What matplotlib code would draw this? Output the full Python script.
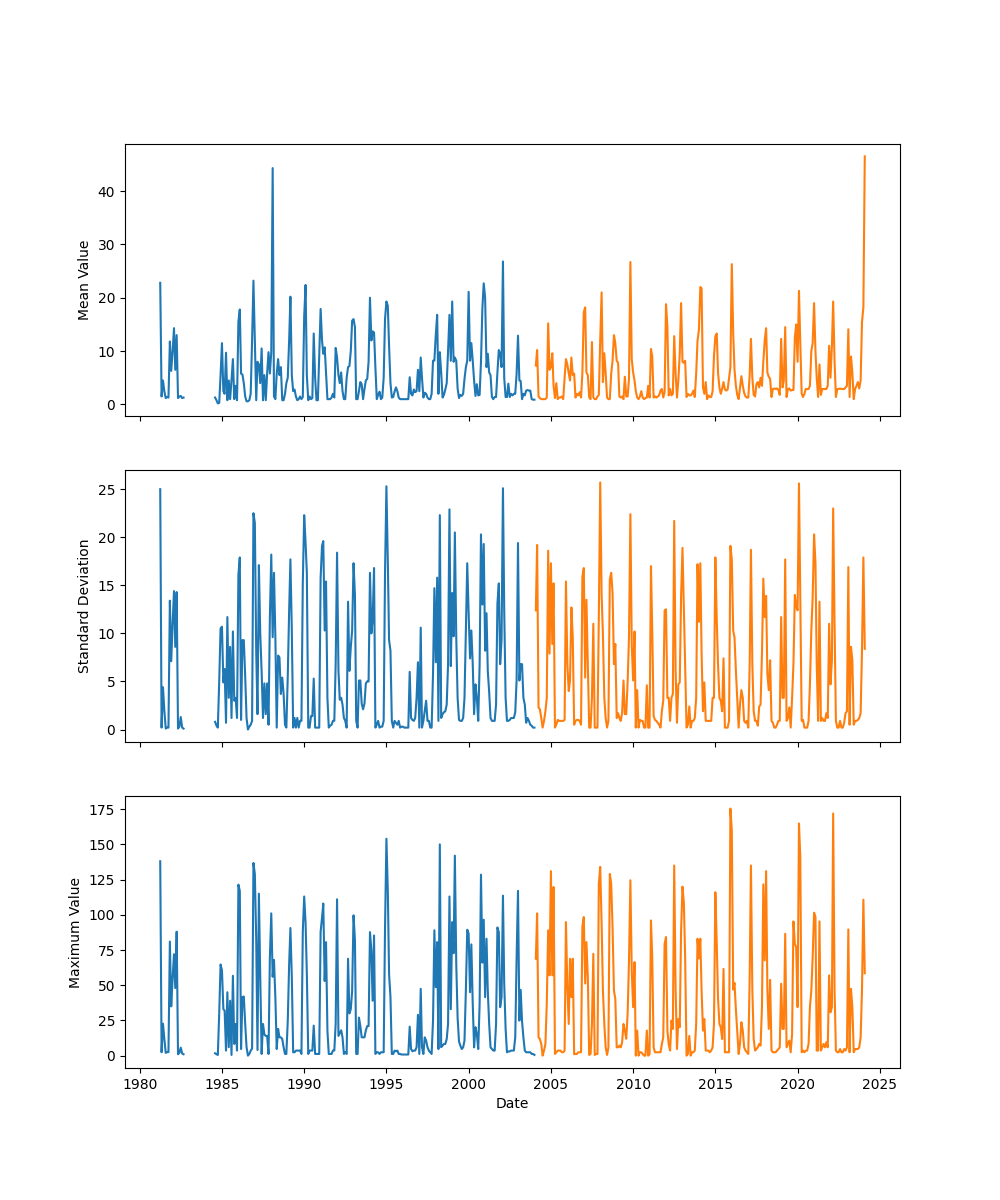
from matplotlib import pyplot as plt
import numpy as np
import pandas as pd

# monthly series, first blue block Apr 1981 - Sep 1982
mean_blue_a = [22.8, 1.5, 4.5, 2.5, 1.2, 1.4, 1.3, 11.8, 6.3, 10.0, 14.3, 6.5, 13.0, 1.2, 1.5, 1.6, 1.2, 1.3]
std_blue_a = [25.0, 0.2, 4.4, 2.0, 0.1, 0.2, 0.2, 13.4, 7.1, 11.0, 14.4, 8.6, 14.3, 0.1, 0.3, 1.3, 0.2, 0.1]
max_blue_a = [138, 2.4, 22.7, 12.0, 2.0, 2.5, 2.5, 81, 35, 55, 72, 48, 88, 1.0, 2.0, 5.7, 1.5, 1.0]

# second blue block Aug 1984 - Jan 2004
mean_blue_b = [
    1.3, 0.8, 0.2, 0.3, 5.5,  # 1984
    11.5, 2.5, 2.0, 9.7, 0.8, 4.5, 1.0, 4.6, 8.5, 1.0, 3.5, 0.8,
    15.5, 17.8, 5.8, 5.6, 4.0, 1.5, 0.6, 0.6, 0.8, 2.0, 12.0, 23.2,
    12.0, 0.8, 8.0, 7.5, 4.0, 10.5, 0.8, 5.5, 0.8, 5.8, 9.8, 5.8,
    9.8, 44.3, 1.5, 1.0, 5.8, 8.5, 5.5, 7.0, 0.8, 0.8, 2.0, 4.0,
    5.0, 12.0, 20.2, 5.5, 2.5, 2.8, 1.5, 0.8, 1.0, 1.5, 1.0, 1.4,
    16.5, 22.4, 5.5, 0.8, 1.5, 1.0, 1.2, 13.3, 5.0, 0.8, 0.8, 9.0,  # 1990
    17.9, 12.0, 9.5, 10.7, 6.0, 1.0, 1.0, 1.0, 1.3, 2.0, 1.3, 10.6,
    8.8, 5.5, 4.0, 6.0, 2.5, 1.0, 1.0, 5.0, 7.0, 7.2, 10.0, 15.7,
    16.0, 14.5, 1.0, 1.0, 2.5, 4.2, 3.8, 1.0, 2.9, 4.5, 4.8, 8.0,
    20.0, 12.0, 13.7, 13.5, 7.0, 1.0, 1.8, 2.4, 1.0, 1.3, 5.0, 16.0,
    19.3, 18.5, 11.0, 4.0, 1.3, 1.4, 2.4, 3.2, 2.5, 1.3, 1.0, 1.0,  # 1995
    1.0, 1.0, 1.0, 1.0, 1.0, 5.1, 2.0, 1.7, 2.8, 2.3, 2.5, 6.5,
    2.5, 8.8, 5.0, 1.3, 2.2, 2.0, 1.3, 1.0, 1.0, 2.0, 8.2, 8.2,
    13.0, 16.8, 2.0, 9.8, 6.0, 1.3, 1.8, 2.8, 4.0, 10.0, 16.8, 8.2,
    19.3, 8.0, 8.8, 8.2, 3.0, 1.2, 1.8, 1.6, 2.0, 4.8, 7.0, 8.2,
    21.1, 8.2, 11.5, 8.2, 4.5, 1.6, 3.8, 1.7, 1.8, 8.0, 18.0, 22.7,  # 2000
    20.0, 7.0, 9.5, 6.0, 5.5, 1.4, 1.0, 1.4, 1.4, 6.0, 10.2, 9.5,
    7.0, 26.8, 5.0, 1.4, 1.4, 3.9, 1.4, 2.0, 1.7, 2.0, 2.0, 5.7,
    12.9, 4.5, 4.4, 1.0, 2.0, 1.7, 2.6, 2.7, 2.6, 2.6, 1.0, 0.9,
    0.9,
]
std_blue_b = [
    0.8, 0.4, 0.2, 5.0, 10.5,  # 1984
    10.7, 4.9, 6.3, 0.7, 11.7, 3.3, 8.6, 1.2, 10.2, 3.0, 3.3, 1.2,
    16.1, 17.9, 1.0, 9.3, 9.3, 5.5, 1.2, 0.0, 0.3, 0.5, 0.9, 22.5,
    21.5, 8.0, 1.6, 17.1, 10.0, 6.0, 1.2, 4.8, 1.6, 4.8, 0.5, 11.7,
    18.2, 9.6, 16.3, 9.6, 0.2, 7.7, 7.5, 3.7, 5.4, 3.7, 0.5, 0.2,
    5.5, 12.4, 17.7, 10.3, 0.2, 1.2, 0.2, 1.2, 0.2, 0.9, 0.9, 15.2,
    22.3, 19.4, 16.3, 0.2, 0.2, 1.4, 1.4, 5.3, 0.2, 0.2, 0.2, 0.2,  # 1990
    15.8, 19.1, 19.6, 10.3, 15.4, 3.3, 0.2, 0.4, 0.5, 0.9, 0.9, 6.8,
    18.4, 6.1, 3.1, 3.3, 2.6, 1.2, 0.9, 0.2, 13.3, 6.1, 8.6, 10.3,
    17.3, 14.0, 0.9, 0.2, 5.1, 5.1, 2.7, 2.1, 2.7, 4.8, 5.0, 5.0,
    16.3, 10.0, 11.4, 16.8, 0.2, 0.5, 0.9, 0.2, 0.3, 0.3, 0.9, 16.3,
    25.3, 17.5, 9.3, 8.2, 0.9, 0.2, 0.9, 0.7, 0.5, 0.9, 0.2, 0.3,  # 1995
    0.3, 0.2, 0.2, 0.2, 0.2, 6.0, 1.2, 1.0, 0.9, 1.2, 3.3, 7.0,
    0.2, 10.6, 0.2, 0.9, 1.9, 3.0, 0.9, 0.9, 0.2, 0.2, 5.8, 14.7,
    7.0, 15.8, 0.9, 22.3, 1.2, 1.6, 1.8, 1.9, 2.6, 6.8, 22.9, 6.6,
    14.2, 9.7, 20.5, 9.6, 3.3, 1.0, 0.9, 0.9, 1.2, 3.3, 10.3, 17.3,
    12.1, 7.4, 10.3, 6.8, 1.6, 4.7, 3.3, 0.9, 6.8, 20.3, 13.0, 19.3,  # 2000
    8.2, 12.1, 6.1, 3.9, 1.2, 0.9, 0.9, 0.9, 2.6, 13.1, 15.2, 6.8,
    9.3, 25.1, 12.4, 3.3, 0.9, 0.9, 1.0, 1.2, 1.2, 1.2, 1.8, 5.1,
    19.4, 5.1, 6.8, 6.8, 3.3, 2.6, 0.7, 1.2, 0.9, 0.5, 0.4, 0.2,
    0.2,
]
max_blue_b = [
    1.7, 1.0, 0.5, 30.0, 64.7,  # 1984
    60.5, 33, 32, 3.6, 45, 6.0, 39, 0.5, 56.7, 8.3, 22.5, 3.6,
    121.4, 117, 4.7, 41.5, 42, 22.5, 6.0, 0.0, 1.2, 3.6, 5.0, 136.8,
    129, 82, 4.0, 115, 56, 1.2, 22.5, 15, 14, 14, 1.2, 70,
    101, 56, 68, 41, 4.7, 19, 13, 13, 11.8, 6.0, 1.2, 1.2,
    24.4, 65, 90.6, 56, 2.4, 2.4, 3.6, 3.6, 3.6, 3.6, 1.2, 88,
    113, 94, 58, 1.2, 3.6, 3.6, 3.6, 21.3, 1.2, 1.2, 1.2, 1.2,  # 1990
    88, 98, 108, 53, 80.6, 17.8, 1.2, 1.2, 1.2, 3.6, 3.6, 22.5,
    111, 14, 16, 18, 13, 1.2, 2.4, 1.2, 68.8, 30, 33, 46,
    99.6, 82, 1.2, 1.2, 27, 21, 13, 13, 13, 18, 21, 21,
    87.7, 74.7, 39.0, 85.3, 1.2, 2.4, 2.4, 1.2, 2.4, 2.4, 2.4, 90.0,
    154, 117, 58, 41.5, 1.2, 1.2, 3.6, 3.1, 3.6, 1.2, 1.2, 0.8,  # 1995
    0.8, 0.8, 0.8, 0.8, 0.8, 20.6, 4.7, 3.1, 3.6, 3.6, 6.0, 29,
    1.2, 47.4, 6.0, 1.2, 13.0, 10.7, 6.0, 3.6, 2.4, 1.2, 25, 89,
    48.6, 80.6, 4.7, 150, 6.0, 7.1, 8.3, 8.3, 11.8, 22.5, 113, 33,
    94.8, 72.7, 142, 65.2, 27, 10, 7.1, 4.7, 5.9, 10.7, 46.9, 89.4,
    86.6, 45, 79, 36.7, 5.9, 20.2, 15.4, 4.7, 36.7, 128.5, 66, 96.5,  # 2000
    41.5, 83, 46.2, 22.5, 5.9, 4.7, 3.6, 3.6, 22.5, 91, 87.7, 34.4,
    41.5, 113.6, 51.2, 19, 2.4, 3.0, 3.0, 3.6, 3.6, 3.6, 13, 69.1,
    117, 24.9, 46.7, 24.4, 13, 3.6, 2.4, 2.4, 2.4, 2.4, 1.2, 1.2,
    0.5,
]

# orange block Feb 2004 - Feb 2024
mean_orange = [
    7.3, 10.2, 1.5, 1.2, 1.0, 1.0, 1.0, 1.0, 1.3, 15.2, 6.5,  # 2004
    7.0, 9.6, 3.5, 1.2, 4.0, 1.0, 1.3, 1.3, 1.5, 1.0, 5.0, 8.5,
    7.5, 5.8, 4.5, 8.8, 5.5, 5.8, 1.3, 2.0, 1.7, 2.3, 1.3, 6.0,
    17.3, 18.2, 6.0, 5.5, 1.3, 1.0, 11.7, 1.3, 1.0, 1.0, 1.5, 1.8,
    12.0, 21.0, 4.2, 9.6, 5.8, 1.3, 1.0, 1.0, 5.8, 8.2, 13.0, 11.5,
    8.2, 7.8, 1.5, 1.3, 1.5, 1.0, 5.2, 1.5, 1.5, 4.8, 26.7, 8.5,
    6.0, 4.5, 2.5, 1.3, 1.0, 1.5, 2.5, 1.3, 1.0, 1.2, 1.3, 3.5,  # 2010
    1.3, 10.4, 9.0, 1.3, 1.5, 1.3, 1.5, 1.7, 2.6, 2.9, 1.3, 2.3,
    18.8, 14.5, 1.7, 2.9, 1.7, 2.0, 12.8, 5.8, 1.3, 4.5, 9.5, 19.0,
    8.0, 7.8, 8.2, 1.4, 2.0, 1.7, 1.7, 2.0, 2.6, 1.4, 5.8, 12.0,
    14.0, 22.0, 21.8, 3.2, 2.0, 4.2, 1.0, 1.7, 1.4, 1.4, 2.5, 9.0,
    12.8, 13.3, 6.0, 3.2, 2.0, 3.0, 4.2, 2.8, 2.6, 2.8, 5.0, 7.0,  # 2015
    26.3, 13.5, 6.5, 3.5, 1.8, 1.0, 3.2, 5.3, 3.5, 2.2, 1.5, 1.3,
    1.3, 5.5, 12.3, 5.0, 1.8, 1.5, 3.8, 4.2, 3.2, 5.0, 3.5, 8.0,
    12.0, 14.3, 6.0, 5.2, 4.8, 1.4, 2.9, 3.0, 2.9, 3.0, 2.7, 1.8,
    12.3, 3.2, 4.5, 14.5, 1.4, 2.9, 3.0, 2.6, 2.7, 2.7, 12.5, 15.0,
    8.0, 21.3, 11.5, 2.0, 1.4, 2.0, 2.9, 2.9, 2.9, 3.5, 10.0, 11.5,  # 2020
    19.0, 10.0, 5.0, 1.4, 7.5, 1.8, 2.9, 2.9, 2.9, 2.9, 3.5, 11.0,
    5.0, 11.0, 19.3, 8.2, 1.4, 2.9, 2.9, 3.0, 2.9, 2.9, 2.9, 3.2,
    3.5, 14.1, 1.4, 9.0, 6.0, 1.0, 2.9, 3.5, 4.2, 3.0, 4.5, 15.4,
    18.2, 46.5,
]
std_orange = [
    12.4, 19.2, 2.3, 2.1, 1.2, 0.2, 0.9, 1.9, 3.3, 18.6, 7.9,  # 2004
    17.3, 8.9, 15.2, 0.2, 0.5, 1.0, 0.9, 0.9, 0.9, 0.9, 1.0, 15.4,
    6.8, 4.0, 5.1, 12.7, 9.6, 0.5, 0.9, 1.0, 1.0, 0.9, 0.5, 15.9,
    16.8, 5.4, 13.5, 6.8, 0.2, 0.2, 3.3, 11.0, 0.2, 0.2, 0.2, 11.7,
    25.7, 14.0, 9.9, 3.3, 1.2, 0.2, 0.9, 15.6, 16.3, 14.2, 6.8, 8.9,
    1.2, 1.7, 1.2, 0.9, 1.7, 5.1, 1.6, 1.6, 5.0, 9.6, 22.4, 8.9,
    5.1, 10.2, 0.2, 4.1, 0.2, 1.0, 0.9, 0.9, 0.2, 0.2, 4.6, 0.2,  # 2010
    0.2, 17.0, 10.3, 1.4, 1.0, 0.9, 0.7, 0.5, 0.2, 1.9, 3.0, 12.4,
    12.5, 3.3, 3.3, 0.9, 3.3, 3.7, 21.7, 6.1, 0.7, 4.7, 4.9, 13.9,
    18.9, 12.4, 6.1, 0.2, 0.5, 2.4, 0.2, 0.9, 0.9, 1.2, 3.3, 17.2,
    11.2, 17.3, 7.9, 1.9, 4.9, 0.9, 0.9, 0.9, 0.9, 0.9, 3.3, 3.3,
    17.9, 11.4, 6.8, 3.3, 3.0, 1.9, 7.4, 0.2, 0.2, 0.2, 0.9, 19.1,  # 2015
    17.7, 10.3, 9.6, 6.1, 3.3, 0.2, 2.6, 4.1, 3.3, 0.9, 0.7, 0.9,
    0.2, 6.8, 18.7, 6.8, 1.9, 0.9, 0.9, 0.4, 2.4, 2.6, 7.9, 15.7,
    11.7, 13.9, 5.8, 4.1, 7.2, 0.9, 0.7, 0.2, 0.2, 0.5, 0.9, 0.9,
    11.7, 3.3, 3.3, 17.7, 0.9, 1.2, 2.3, 0.2, 3.3, 6.8, 14.0, 12.8,
    12.4, 25.6, 13.8, 0.9, 1.0, 0.2, 0.2, 0.2, 0.9, 4.7, 10.3, 13.8,  # 2020
    20.3, 17.3, 6.8, 0.9, 13.3, 0.9, 1.2, 0.9, 0.9, 1.7, 1.2, 11.0,
    4.7, 7.2, 23.0, 11.0, 0.9, 0.2, 0.2, 0.9, 0.2, 0.2, 0.7, 1.7,
    1.9, 16.9, 0.5, 8.6, 7.2, 0.5, 0.9, 0.9, 1.0, 1.2, 1.7, 8.2,
    17.9, 8.4,
]
max_orange = [
    68.8, 101, 13, 11.8, 8.3, 0.0, 3.6, 8.3, 36.7, 89, 57,  # 2004
    131, 57, 119.7, 1.2, 2.4, 3.6, 3.6, 3.6, 2.4, 2.4, 3.6, 94.8,
    48.6, 22.5, 68.8, 41.5, 68.8, 1.0, 1.2, 1.2, 2.4, 2.4, 2.4, 91.7,
    98.4, 51.2, 80.6, 55.5, 0.5, 1.2, 22.5, 72.3, 0.5, 1.2, 1.2, 122,
    134, 93.6, 46.2, 22.5, 5.9, 0.5, 5.9, 129, 122, 91, 46.2, 40.3,
    5.9, 5.9, 7.1, 5.9, 9.5, 22.5, 17.8, 12, 30, 67.6, 124.5, 60.5,
    34.4, 66.4, 0.0, 17.8, 0.0, 2.4, 2.4, 1.2, 0.0, 0.0, 17.8, 0.0,  # 2010
    1.0, 96, 70, 5.9, 2.4, 2.4, 2.4, 2.4, 2.4, 8.3, 13, 79.4,
    84.2, 17.8, 8, 3.6, 24.9, 19, 135, 46.9, 4.7, 26, 20.2, 89,
    120, 108, 70, 0.0, 1.2, 14, 0.0, 2.4, 2.4, 3.6, 22.5, 83,
    69, 83, 46.2, 17.8, 26, 3.6, 3.6, 3.6, 2.4, 3.6, 6.0, 22.5,
    116, 79.4, 41, 22.5, 20.2, 11.8, 61.6, 2.4, 2.4, 2.4, 2.4, 175.4,  # 2015
    160, 46.9, 51.6, 32.7, 17.8, 1.2, 8.3, 23.7, 17.8, 5.9, 3.6, 2.4,
    1.2, 55.5, 135, 46.9, 11.8, 3.6, 4.7, 5.9, 8.3, 7.1, 34.4, 121.6,
    67.6, 131, 46.9, 19, 53.8, 3.6, 2.4, 2.4, 2.4, 3.6, 4.7, 5.9,
    51, 19, 19, 86.5, 5.9, 8.3, 10.7, 2.4, 15.4, 95.3, 79.4, 77,
    34.4, 164.8, 141, 2.4, 3.6, 2.4, 3.6, 3.6, 8.3, 34.4, 46.2, 70,  # 2020
    101.5, 98.4, 3.6, 3.6, 95.3, 3.6, 5.9, 8.3, 5.9, 9.5, 5.9, 57,
    30.8, 34.4, 171.9, 46.9, 3.6, 2.4, 2.4, 4.7, 2.4, 2.4, 4.7, 3.6,
    5.9, 89.6, 2.4, 47.4, 34.4, 2.4, 4.7, 4.7, 4.7, 5.9, 13, 46.2,
    110.7, 58.5,
]

panel_labels = ["Mean Value", "Standard Deviation", "Maximum Value"]


def main():
    blue_dates = pd.date_range("1981-04-01", "2004-01-01", freq="MS")
    orange_dates = pd.date_range("2004-02-01", "2024-02-01", freq="MS")
    gap = [np.nan] * 22  # Oct 1982 - Jul 1984 missing

    blue = [mean_blue_a + gap + mean_blue_b,
            std_blue_a + gap + std_blue_b,
            max_blue_a + gap + max_blue_b]
    orange = [mean_orange, std_orange, max_orange]

    fig, axes = plt.subplots(3, 1, figsize=(10, 12), sharex=True)
    for ax, b, o, label in zip(axes, blue, orange, panel_labels):
        ax.plot(blue_dates, np.array(b, dtype=float), color="C0")
        ax.plot(orange_dates, np.array(o, dtype=float), color="C1")
        ax.set_ylabel(label)
    axes[-1].set_xlabel("Date")
    fig.savefig("out.png", dpi=100)


if __name__ == "__main__":
    main()
